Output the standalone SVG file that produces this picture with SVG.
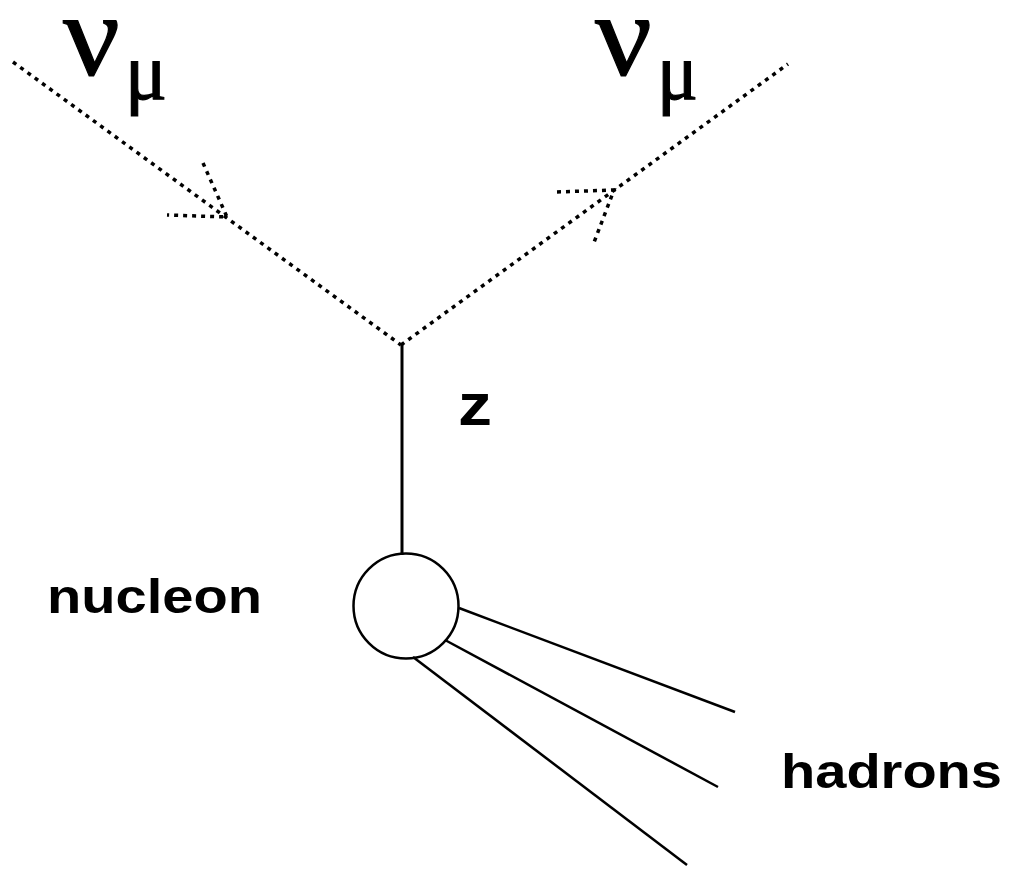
<svg xmlns="http://www.w3.org/2000/svg" width="1009" height="872" viewBox="0 0 1009 872">
<style>
.dot{fill:none;stroke:#000;stroke-width:3.5;stroke-dasharray:4 5}
.sol{fill:none;stroke:#000;stroke-width:2.5}
.greek{font-family:"Liberation Serif","DejaVu Serif",serif;fill:#000;stroke:#000;stroke-width:1.2}
.lab{font-family:"Liberation Sans",Arial,sans-serif;font-weight:bold;fill:#000}
</style>
<rect width="1009" height="872" fill="#fff"/>
<g id="connectors">
<line class="dot" x1="13" y1="62" x2="401" y2="345"/>
<polyline class="dot" points="203,163 227,217 167,215"/>
<line class="dot" x1="401" y1="345" x2="788" y2="64"/>
<polyline class="dot" points="557,192 614,190 593,245"/>
<line class="sol" x1="402" y1="345" x2="402" y2="555" style="stroke-width:3"/>
<line class="sol" x1="459" y1="608" x2="735" y2="712"/>
<line class="sol" x1="445" y1="640" x2="718" y2="787"/>
<line class="sol" x1="413" y1="657" x2="687" y2="865"/>
</g>
<g id="nucleon">
<circle class="sol" cx="406" cy="606" r="52.5"/>
<text class="lab" x="47" y="613" font-size="49" textLength="215" lengthAdjust="spacingAndGlyphs">nucleon</text>
</g>
<g id="nu-in">
<text class="greek" x="63" y="75" font-size="118" textLength="57" lengthAdjust="spacingAndGlyphs">ν</text>
<text class="greek" x="125" y="99" font-size="80" textLength="42" lengthAdjust="spacingAndGlyphs">μ</text>
</g>
<g id="nu-out">
<text class="greek" x="595" y="75" font-size="118" textLength="57" lengthAdjust="spacingAndGlyphs">ν</text>
<text class="greek" x="657" y="99" font-size="80" textLength="41" lengthAdjust="spacingAndGlyphs">μ</text>
</g>
<g id="z-label">
<text class="lab" x="458" y="425" font-size="60" textLength="34" lengthAdjust="spacingAndGlyphs">z</text>
</g>
<g id="hadrons">
<text class="lab" x="781" y="788" font-size="49" textLength="221" lengthAdjust="spacingAndGlyphs">hadrons</text>
</g>
</svg>
